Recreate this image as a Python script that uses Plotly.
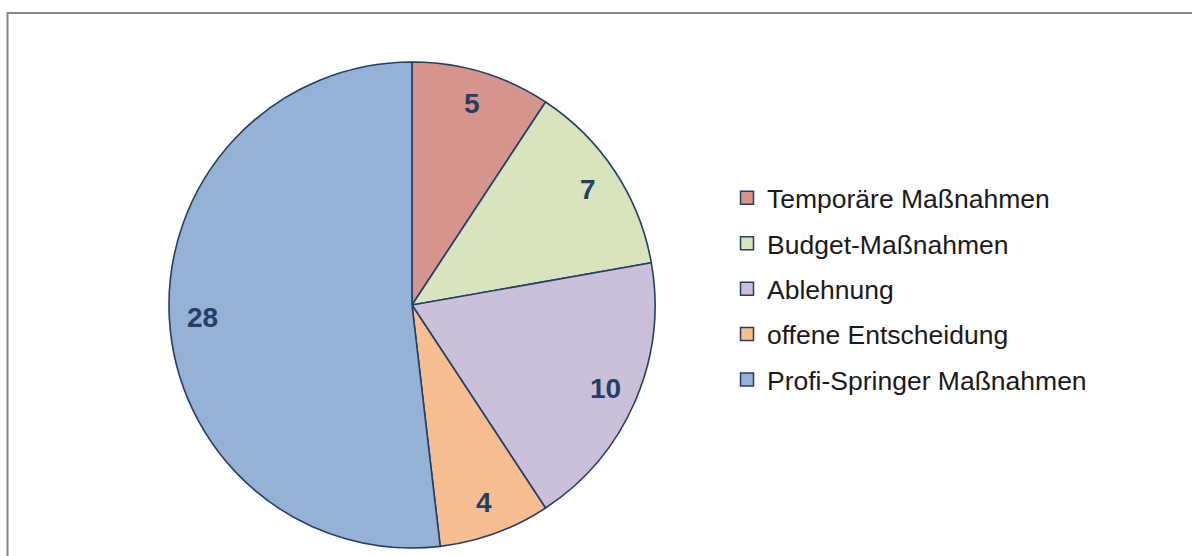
import math
import plotly.graph_objects as go

categories = ["Temporäre Maßnahmen", "Budget-Maßnahmen", "Ablehnung",
              "offene Entscheidung", "Profi-Springer Maßnahmen"]
values = [5, 7, 10, 4, 28]
colors = ["#D6948F", "#D7E4BD", "#CBC0DA", "#F7BF91", "#95B2D6"]
edge = "#243F66"

W, H = 1192, 556
cx, cy, R = 412, 305, 243

fig = go.Figure()
fig.add_trace(go.Pie(
    labels=categories, values=values, sort=False, direction="clockwise",
    rotation=0, marker=dict(colors=colors, line=dict(color=edge, width=1.6)),
    textinfo="none", hoverinfo="label+value", showlegend=False,
    domain=dict(x=[(cx - R) / W, (cx + R) / W], y=[1 - (cy + R) / H, 1 - (cy - R) / H]),
))

# legend via dummy traces (one group each so spacing can be tuned)
for i, (c, col) in enumerate(zip(categories, colors)):
    fig.add_trace(go.Scatter(
        x=[None], y=[None], mode="markers", name=c, legendgroup=f"g{i}",
        marker=dict(symbol="square", size=13, color=col, line=dict(color=edge, width=1.5)),
    ))

# value labels inside the slices
total = sum(values)
cum = 0
for v in values:
    mid = (cum + v / 2) / total * 2 * math.pi
    cum += v
    rr = 0.865 * R
    px = cx + rr * math.sin(mid)
    py = cy - rr * math.cos(mid)
    fig.add_annotation(x=px / W, y=1 - py / H, xref="paper", yref="paper",
                       xanchor="center", yanchor="middle",
                       text=f"<b>{v}</b>", showarrow=False,
                       font=dict(family="Liberation Sans, Arial", size=28, color=edge))

# chart frame
fig.add_shape(type="rect", xref="paper", yref="paper",
              x0=7.5 / W, x1=1.05, y0=-0.05, y1=1 - 13 / H,
              line=dict(color="#878787", width=2), layer="below")

fig.update_layout(
    width=W, height=H, margin=dict(l=0, r=0, t=0, b=0),
    paper_bgcolor="white", plot_bgcolor="white",
    xaxis=dict(visible=False), yaxis=dict(visible=False),
    legend=dict(x=(767 - 40) / W, y=1 - 174 / H, xanchor="left", yanchor="top",
                font=dict(family="Liberation Sans, Arial", size=26.5, color="#1a1a1a"),
                tracegroupgap=8, bgcolor="rgba(0,0,0,0)"),
    showlegend=True,
)

fig.write_html("out.html")
